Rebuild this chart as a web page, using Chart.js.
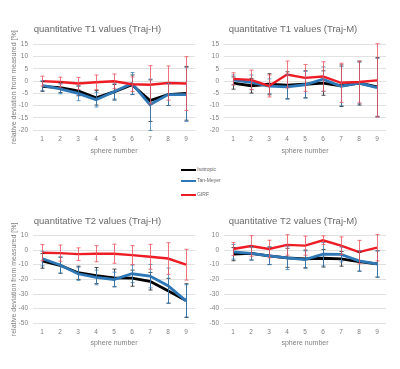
<!DOCTYPE html>
<html>
<head>
<meta charset="utf-8">
<script src="https://cdn.jsdelivr.net/npm/chart.js@4.4.0/dist/chart.umd.min.js"></script>
<style>
  body { margin: 0; background: #fff; width: 400px; height: 369px; position: relative; overflow: hidden; font-family: "Liberation Sans", Arial, sans-serif; }
  canvas { position: absolute; }
  .leg { position: absolute; left: 181px; height: 8px; font-size: 5px; color: #666; line-height: 8px; }
  .leg span { display: inline-block; width: 15px; height: 2px; vertical-align: middle; margin-right: 1px; }
</style>
</head>
<body>
<canvas id="t1h" width="200" height="160" style="left:0;top:0"></canvas>
<canvas id="t1m" width="200" height="160" style="left:200px;top:0"></canvas>
<canvas id="t2h" width="200" height="170" style="left:0;top:185px"></canvas>
<canvas id="t2m" width="200" height="170" style="left:200px;top:185px"></canvas>
<div class="leg" style="top:165px"><span style="background:#000"></span>Isotropic</div>
<div class="leg" style="top:176px"><span style="background:#2e78b7"></span>Tan-Meyer</div>
<div class="leg" style="top:190px"><span style="background:#ee1c25"></span>GIRF</div>
<script>
const spheres = ['1', '2', '3', '4', '5', '6', '7', '8', '9'];
const seriesNames = ['Isotropic', 'Tan-Meyer', 'GIRF'];

// T1, Traj-H
const t1hIso = [-2.2, -2.7, -4, -6.8, -4.4, -1.5, -8, -5.5, -5];
const t1hIsoErr = [2, 2, 2, 3, 3, 4, 8.5, 4.5, 11];
const t1hTan = [-1.8, -3.2, -5, -7.6, -4.4, -1, -9.7, -5.5, -5.5];
const t1hTanErr = [2, 2, 3, 3, 3.5, 4.5, 10.5, 4.5, 11];
const t1hGirf = [0, -0.4, -1, -0.5, -0.1, -1.3, -1.5, -0.8, -1];
const t1hGirfErr = [2, 2, 2.5, 3, 3, 3, 7.8, 7, 11];

// T1, Traj-M
const t1mIso = [-0.8, -1.9, -1.3, -1.7, -1.3, -0.8, -1.9, -0.8, -2.4];
const t1mIsoErr = [2.5, 3, 4.3, 5.5, 5.5, 5, 8.5, 9, 12];
const t1mTan = [0.5, -0.5, -2.1, -2.4, -1.5, 0.8, -2.1, -0.8, -2.7];
const t1mTanErr = [2, 3, 3, 5, 5.5, 5, 8, 8.5, 12];
const t1mGirf = [0.9, 0.5, -2, 2.7, 1.3, 1.9, -0.7, -0.4, 0.3];
const t1mGirfErr = [2.5, 4, 4.5, 5.5, 5.5, 6, 8, 8.5, 15];

// T2, Traj-H
const t2hIso = [-7.4, -10.4, -15.5, -17.4, -19, -19.2, -21.3, -27.8, -34.5];
const t2hIsoErr = [5, 5.5, 4.5, 5.5, 6, 5.5, 6, 8.5, 11.5];
const t2hTan = [-5.8, -10.2, -16.2, -18.7, -20.1, -16.2, -17.8, -24.3, -34.7];
const t2hTanErr = [5, 5.5, 4.5, 5, 5, 6, 8, 12, 11];
const t2hGirf = [-1.8, -2.1, -2.8, -2.5, -2.5, -3.5, -4.6, -5.8, -10];
const t2hGirfErr = [5.5, 5.5, 4.3, 5.5, 6.5, 6.5, 8.5, 10.8, 10.5];

// T2, Traj-M
const t2mIso = [-2.8, -2.3, -3.9, -5.3, -6, -5.6, -6, -7.9, -9.5];
const t2mIsoErr = [4.5, 4.5, 6, 6.5, 6, 6, 5, 6.5, 9];
const t2mTan = [-1.2, -2.3, -3.9, -5.3, -6.5, -2.8, -3, -7.4, -9.5];
const t2mTanErr = [5, 4.5, 6, 8, 6, 8, 5, 7, 9];
const t2mGirf = [0.7, 2.8, 0.7, 3.5, 3, 6.7, 3, -1.4, 1.6];
const t2mGirfErr = [4.5, 7, 6, 7, 6.5, 3, 6, 8, 9];

const lineColors = ['#000000', '#2e78b7', '#ee1c25'];
const errColors = ['#222222', '#3a80bd', '#f0505a'];

const errorBars = {
  id: 'errorBars',
  afterDatasetsDraw(chart) {
    const ctx = chart.ctx;
    const yScale = chart.scales.y;
    chart.data.datasets.forEach((ds, i) => {
      const meta = chart.getDatasetMeta(i);
      ctx.save();
      ctx.strokeStyle = ds.errColor;
      ctx.lineWidth = 0.8;
      meta.data.forEach((pt, j) => {
        const v = ds.data[j];
        const e = ds.errors[j];
        const top = yScale.getPixelForValue(v + e);
        const bot = yScale.getPixelForValue(v - e);
        const x = Math.round(pt.x) + 0.5;
        ctx.beginPath();
        ctx.moveTo(x, top);
        ctx.lineTo(x, bot);
        ctx.moveTo(x - 2, top);
        ctx.lineTo(x + 2, top);
        ctx.moveTo(x - 2, bot);
        ctx.lineTo(x + 2, bot);
        ctx.stroke();
      });
      ctx.restore();
    });
  }
};

function makePanel(id, title, values, errors, cfg) {
  const datasets = values.map((vals, i) => ({
    label: seriesNames[i],
    data: vals,
    errors: errors[i],
    errColor: errColors[i],
    borderColor: lineColors[i],
    borderWidth: i === 2 ? 2.4 : 2.8,
    pointRadius: 0,
    tension: 0,
    fill: false,
    order: 2 - i
  }));
  new Chart(document.getElementById(id), {
    type: 'line',
    data: { labels: spheres, datasets: datasets },
    plugins: [errorBars],
    options: {
      responsive: false,
      animation: false,
      layout: { padding: { left: 0, right: cfg.padRight, top: 0, bottom: 0 } },
      plugins: {
        legend: { display: false },
        tooltip: { enabled: false },
        title: {
          display: true,
          text: title,
          color: '#6a6a6a',
          font: { family: 'Liberation Sans', size: 9.5, weight: 'normal' },
          padding: { top: cfg.titleTop, bottom: cfg.titleBottom }
        }
      },
      scales: {
        x: {
          offset: true,
          grid: { display: false, drawTicks: false },
          border: { display: false },
          afterFit: scale => { scale.height = cfg.xHeight; },
          ticks: {
            color: '#7f7f7f',
            font: { family: 'Liberation Sans', size: 6.5 },
            padding: 5,
            autoSkip: false,
            maxRotation: 0
          },
          title: {
            display: true,
            text: 'sphere number',
            color: '#7f7f7f',
            font: { family: 'Liberation Sans', size: 7 },
            padding: { top: 0, bottom: cfg.xTitleBottom }
          }
        },
        y: {
          min: cfg.min,
          max: cfg.max,
          grid: { color: '#d9d9d9', lineWidth: 0.8, drawTicks: false },
          border: { display: false },
          afterFit: scale => { scale.width = cfg.yWidth; },
          ticks: {
            stepSize: cfg.step,
            color: '#7f7f7f',
            font: { family: 'Liberation Sans', size: 6.5 },
            padding: 5
          },
          title: {
            display: cfg.yTitle,
            text: 'relative deviation from measured [%]',
            color: '#7f7f7f',
            font: { family: 'Liberation Sans', size: 7 },
            padding: { top: 10, bottom: 0 }
          }
        }
      }
    }
  });
}

makePanel('t1h', 'quantitative T1 values (Traj-H)',
  [t1hIso, t1hTan, t1hGirf], [t1hIsoErr, t1hTanErr, t1hGirfErr],
  { min: -20, max: 15, step: 5, yTitle: true, yWidth: 33, padRight: 5,
    titleTop: 24, titleBottom: 9, xHeight: 30, xTitleBottom: 5 });

makePanel('t1m', 'quantitative T1 values (Traj-M)',
  [t1mIso, t1mTan, t1mGirf], [t1mIsoErr, t1mTanErr, t1mGirfErr],
  { min: -20, max: 15, step: 5, yTitle: false, yWidth: 24, padRight: 14,
    titleTop: 24, titleBottom: 9, xHeight: 30, xTitleBottom: 5 });

makePanel('t2h', 'quantitative T2 values (Traj-H)',
  [t2hIso, t2hTan, t2hGirf], [t2hIsoErr, t2hTanErr, t2hGirfErr],
  { min: -50, max: 10, step: 10, yTitle: true, yWidth: 33, padRight: 5,
    titleTop: 31, titleBottom: 8, xHeight: 31.7, xTitleBottom: 7.5 });

makePanel('t2m', 'quantitative T2 values (Traj-M)',
  [t2mIso, t2mTan, t2mGirf], [t2mIsoErr, t2mTanErr, t2mGirfErr],
  { min: -50, max: 10, step: 10, yTitle: false, yWidth: 24, padRight: 14,
    titleTop: 31, titleBottom: 8, xHeight: 31.7, xTitleBottom: 7.5 });
</script>
</body>
</html>
